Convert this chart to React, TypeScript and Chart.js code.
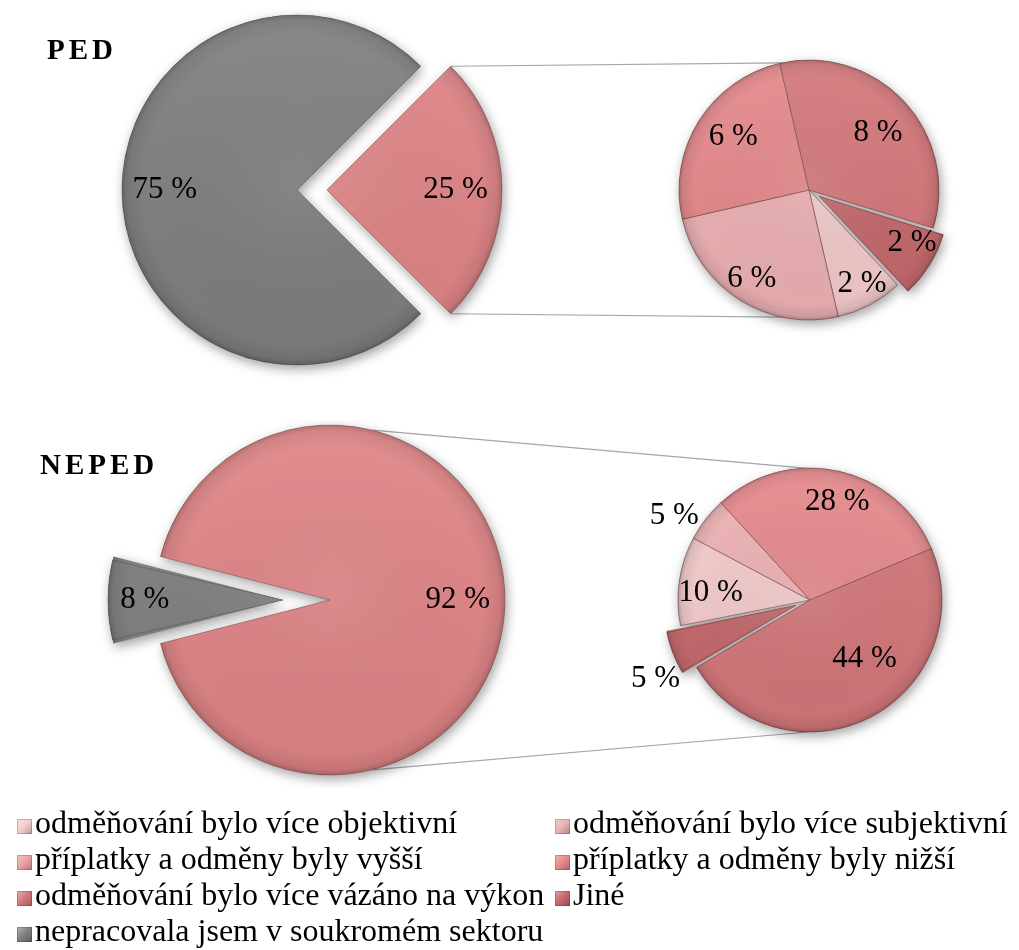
import React, { useEffect, useRef } from "react";
import { Chart, registerables } from "chart.js";

Chart.register(...registerables);

// Answer categories shown in the detail pies and in the legend
const CATEGORIES = [
  "odměňování bylo více objektivní",
  "odměňování bylo více subjektivní",
  "příplatky a odměny byly vyšší",
  "příplatky a odměny byly nižší",
  "odměňování bylo více vázáno na výkon",
  "Jiné",
];
const NOT_WORKED_LABEL = "nepracovala jsem v soukromém sektoru";
const REST_LABEL = "pracovala jsem v soukromém sektoru";

// PED: main pie [worked in private sector, did not], detail pie per category (%)
const PED_MAIN = [25, 75];
const PED_DETAIL = [2, 6, 0, 6, 8, 2];

// NEPED
const NEPED_MAIN = [92, 8];
const NEPED_DETAIL = [10, 5, 0, 28, 44, 5];

const CATEGORY_COLORS = ["#F4CBCC", "#EDB1B3", "#EBA0A2", "#E5888B", "#D4777A", "#C4686C"];
const REST_COLOR = "#E08486";
const GRAY = "#7F7F7F";

const FONT = '"Liberation Serif", "Times New Roman", Times, serif';

type PieSpec = {
  labels: string[];
  values: number[];
  colors: string[];
  radius: number;
  rotation: number;
  explode: number[];
  labelRadius: number[];
  labelShift: number[];
  border: string;
};

// geometry of a slice as it is actually painted (Chart.js moves an offset slice by offset/4)
function arcGeom(arc: any) {
  const off = (arc.options.offset || 0) / 4;
  const mid = (arc.startAngle + arc.endAngle) / 2;
  const fix = 1 - Math.sin(Math.min(Math.PI, arc.circumference || 0));
  return {
    cx: arc.x + Math.cos(mid) * off,
    cy: arc.y + Math.sin(mid) * off,
    r: arc.outerRadius + off * fix,
    start: arc.startAngle,
    end: arc.endAngle,
    mid,
  };
}

function wedge(ctx: CanvasRenderingContext2D, g: ReturnType<typeof arcGeom>) {
  ctx.beginPath();
  ctx.moveTo(g.cx, g.cy);
  ctx.arc(g.cx, g.cy, g.r, g.start, g.end);
  ctx.closePath();
}

// keep exploded slices at the same radius as the others
const explodeFix = {
  id: "explodeFix",
  afterDatasetUpdate(chart: any, args: any) {
    args.meta.data.forEach((arc: any) => {
      const off = (arc.options?.offset || 0) / 4;
      const fix = 1 - Math.sin(Math.min(Math.PI, arc.circumference || 0));
      arc.outerRadius = arc.outerRadius - off * fix;
    });
  },
};

// soft drop shadow under the slices
const sliceShadow = {
  id: "sliceShadow",
  beforeDatasetDraw(chart: any, args: any) {
    const ctx = chart.ctx as CanvasRenderingContext2D;
    args.meta.data.forEach((arc: any) => {
      if (!arc.circumference) return;
      const g = arcGeom(arc);
      ctx.save();
      ctx.shadowColor = "rgba(0,0,0,0.38)";
      ctx.shadowBlur = 12;
      ctx.shadowOffsetX = 2;
      ctx.shadowOffsetY = 4;
      ctx.fillStyle = arc.options.backgroundColor;
      wedge(ctx, g);
      ctx.fill();
      ctx.restore();
    });
  },
};

// rounded bevel look: darker rim and a light top
const sliceShade = {
  id: "sliceShade",
  afterDatasetDraw(chart: any, args: any) {
    const ctx = chart.ctx as CanvasRenderingContext2D;
    args.meta.data.forEach((arc: any) => {
      if (!arc.circumference) return;
      const g = arcGeom(arc);
      ctx.save();
      wedge(ctx, g);
      ctx.clip();
      const rg = ctx.createRadialGradient(g.cx, g.cy, 0, g.cx, g.cy, g.r);
      rg.addColorStop(0, "rgba(255,255,255,0.05)");
      rg.addColorStop(0.88, "rgba(0,0,0,0)");
      rg.addColorStop(0.97, "rgba(0,0,0,0.08)");
      rg.addColorStop(1, "rgba(0,0,0,0.22)");
      ctx.fillStyle = rg;
      ctx.fillRect(g.cx - g.r - 2, g.cy - g.r - 2, g.r * 2 + 4, g.r * 2 + 4);
      const lg = ctx.createLinearGradient(0, g.cy - g.r, 0, g.cy + g.r);
      lg.addColorStop(0, "rgba(255,255,255,0.08)");
      lg.addColorStop(1, "rgba(0,0,0,0.05)");
      ctx.fillStyle = lg;
      ctx.fillRect(g.cx - g.r - 2, g.cy - g.r - 2, g.r * 2 + 4, g.r * 2 + 4);
      ctx.restore();
    });
  },
};

// "N %" value labels
const sliceLabels = {
  id: "sliceLabels",
  afterDatasetsDraw(chart: any) {
    const ds = chart.data.datasets[0];
    const ctx = chart.ctx as CanvasRenderingContext2D;
    ctx.save();
    ctx.font = `31px ${FONT}`;
    ctx.fillStyle = "#000";
    ctx.textAlign = "center";
    ctx.textBaseline = "middle";
    chart.getDatasetMeta(0).data.forEach((arc: any, i: number) => {
      const v = ds.data[i];
      if (!v) return;
      const g = arcGeom(arc);
      const a = g.mid + ((ds.labelShift[i] || 0) * Math.PI) / 180;
      const d = g.r * ds.labelRadius[i];
      ctx.fillText(`${v} %`, g.cx + Math.cos(a) * d, g.cy + Math.sin(a) * d);
    });
    ctx.restore();
  },
};

function makePie(canvas: HTMLCanvasElement, spec: PieSpec) {
  return new Chart(canvas, {
    type: "pie",
    data: {
      labels: spec.labels,
      datasets: [
        {
          data: spec.values,
          backgroundColor: spec.colors,
          borderColor: spec.border,
          borderWidth: 1,
          offset: spec.explode.map((d) => d * 4),
          labelRadius: spec.labelRadius,
          labelShift: spec.labelShift,
        } as any,
      ],
    },
    options: {
      animation: false,
      responsive: true,
      maintainAspectRatio: false,
      radius: spec.radius,
      rotation: spec.rotation,
      layout: { padding: 0 },
      events: [],
      plugins: { legend: { display: false }, tooltip: { enabled: false } },
    } as any,
    plugins: [explodeFix, sliceShadow, sliceShade, sliceLabels],
  });
}

const PED_MAIN_SPEC: PieSpec = {
  labels: [REST_LABEL, NOT_WORKED_LABEL],
  values: PED_MAIN,
  colors: [REST_COLOR, GRAY],
  radius: 175,
  rotation: 45,
  explode: [30, 0],
  labelRadius: [0.735, 0.755],
  labelShift: [0, 0],
  border: "rgba(70,50,50,0.35)",
};
const PED_DETAIL_SPEC: PieSpec = {
  labels: CATEGORIES,
  values: PED_DETAIL,
  colors: CATEGORY_COLORS,
  radius: 130,
  rotation: 137,
  explode: [0, 0, 0, 0, 0, 12],
  labelRadius: [0.83, 0.81, 0, 0.71, 0.69, 0.8],
  labelShift: [-1.4, 0.9, 0, 2.9, 3.4, -5.3],
  border: "rgba(110,70,70,0.6)",
};
const NEPED_MAIN_SPEC: PieSpec = {
  labels: [REST_LABEL, NOT_WORKED_LABEL],
  values: NEPED_MAIN,
  colors: [REST_COLOR, GRAY],
  radius: 175,
  rotation: 284.4,
  explode: [0, 47],
  labelRadius: [0.73, 0.79],
  labelShift: [0, 0],
  border: "rgba(70,50,50,0.35)",
};
const NEPED_DETAIL_SPEC: PieSpec = {
  labels: CATEGORIES,
  values: NEPED_DETAIL,
  colors: CATEGORY_COLORS,
  radius: 132,
  rotation: 258.8,
  explode: [0, 0, 0, 0, 0, 15],
  labelRadius: [0.755, 1.21, 0, 0.77, 0.61, 1.2],
  labelShift: [-4, -5.9, 0, 3.3, -15.7, -6.5],
  border: "rgba(110,70,70,0.6)",
};

// connector lines between the main pie and its detail pie (angles in degrees, clockwise from 3 o'clock)
const CONNECTORS = [
  { main: [-45, 45], detail: [-102, 79] },
  { main: [-76, 76], detail: [-92, 91] },
];

const LEGEND_ITEMS = [
  ...CATEGORIES.map((label, i) => ({ label, color: CATEGORY_COLORS[i] })),
  { label: NOT_WORKED_LABEL, color: GRAY },
];

const box = (left: number, top: number, size: number): React.CSSProperties => ({
  position: "absolute",
  left,
  top,
  width: size,
  height: size,
});

export default function App() {
  const overlayRef = useRef<HTMLCanvasElement>(null);
  const pedMainRef = useRef<HTMLCanvasElement>(null);
  const pedDetailRef = useRef<HTMLCanvasElement>(null);
  const nepedMainRef = useRef<HTMLCanvasElement>(null);
  const nepedDetailRef = useRef<HTMLCanvasElement>(null);

  useEffect(() => {
    const pedMain = makePie(pedMainRef.current!, PED_MAIN_SPEC);
    const pedDetail = makePie(pedDetailRef.current!, PED_DETAIL_SPEC);
    const nepedMain = makePie(nepedMainRef.current!, NEPED_MAIN_SPEC);
    const nepedDetail = makePie(nepedDetailRef.current!, NEPED_DETAIL_SPEC);

    const ov = overlayRef.current!;
    const ctx = ov.getContext("2d")!;
    ctx.clearRect(0, 0, ov.width, ov.height);
    const base = ov.getBoundingClientRect();
    const pairs = [
      [pedMain, pedDetail],
      [nepedMain, nepedDetail],
    ];
    pairs.forEach(([m, d], p) => {
      const mr = m.canvas.getBoundingClientRect();
      const dr = d.canvas.getBoundingClientRect();
      const gm = arcGeom(m.getDatasetMeta(0).data[0]);
      const gd = arcGeom(d.getDatasetMeta(0).data[0]);
      ctx.save();
      ctx.strokeStyle = "#A6A6A6";
      ctx.lineWidth = 1.2;
      for (let k = 0; k < 2; k++) {
        const a1 = (CONNECTORS[p].main[k] * Math.PI) / 180;
        const a2 = (CONNECTORS[p].detail[k] * Math.PI) / 180;
        ctx.beginPath();
        ctx.moveTo(mr.left - base.left + gm.cx + Math.cos(a1) * gm.r, mr.top - base.top + gm.cy + Math.sin(a1) * gm.r);
        ctx.lineTo(dr.left - base.left + gd.cx + Math.cos(a2) * gd.r, dr.top - base.top + gd.cy + Math.sin(a2) * gd.r);
        ctx.stroke();
      }
      ctx.restore();
    });

    return () => {
      pedMain.destroy();
      pedDetail.destroy();
      nepedMain.destroy();
      nepedDetail.destroy();
    };
  }, []);

  const title: React.CSSProperties = {
    position: "absolute",
    fontFamily: FONT,
    fontWeight: "bold",
    fontSize: 29,
    lineHeight: "29px",
    letterSpacing: 4,
    color: "#000",
  };

  return (
    <div style={{ position: "absolute", left: 0, top: 0, width: 1019, height: 950, background: "#fff", overflow: "hidden" }}>
      <canvas ref={overlayRef} width={1019} height={950} style={{ position: "absolute", left: 0, top: 0 }} />
      <div style={{ ...title, left: 47, top: 35 }}>PED</div>
      <div style={{ ...title, left: 40, top: 450 }}>NEPED</div>
      <div style={box(77, -30, 440)}>
        <canvas ref={pedMainRef} />
      </div>
      <div style={box(609, -10, 400)}>
        <canvas ref={pedDetailRef} />
      </div>
      <div style={box(90, 360, 480)}>
        <canvas ref={nepedMainRef} />
      </div>
      <div style={box(610, 400, 400)}>
        <canvas ref={nepedDetailRef} />
      </div>
      <div
        style={{
          position: "absolute",
          left: 17,
          top: 804,
          display: "grid",
          gridTemplateColumns: "538px auto",
          fontFamily: FONT,
          fontSize: 32,
          lineHeight: "36px",
          color: "#000",
        }}
      >
        {LEGEND_ITEMS.map((it) => (
          <div key={it.label} style={{ display: "flex", alignItems: "flex-start", whiteSpace: "nowrap" }}>
            <span
              style={{
                width: 15,
                height: 15,
                marginTop: 15,
                marginRight: 3,
                flex: "none",
                backgroundColor: it.color,
                backgroundImage: "linear-gradient(135deg, rgba(255,255,255,0.4), rgba(255,255,255,0) 50%, rgba(0,0,0,0.25))",
                boxShadow: "inset 0 0 0 1px rgba(0,0,0,0.18)",
              }}
            />
            <span>{it.label}</span>
          </div>
        ))}
      </div>
    </div>
  );
}
